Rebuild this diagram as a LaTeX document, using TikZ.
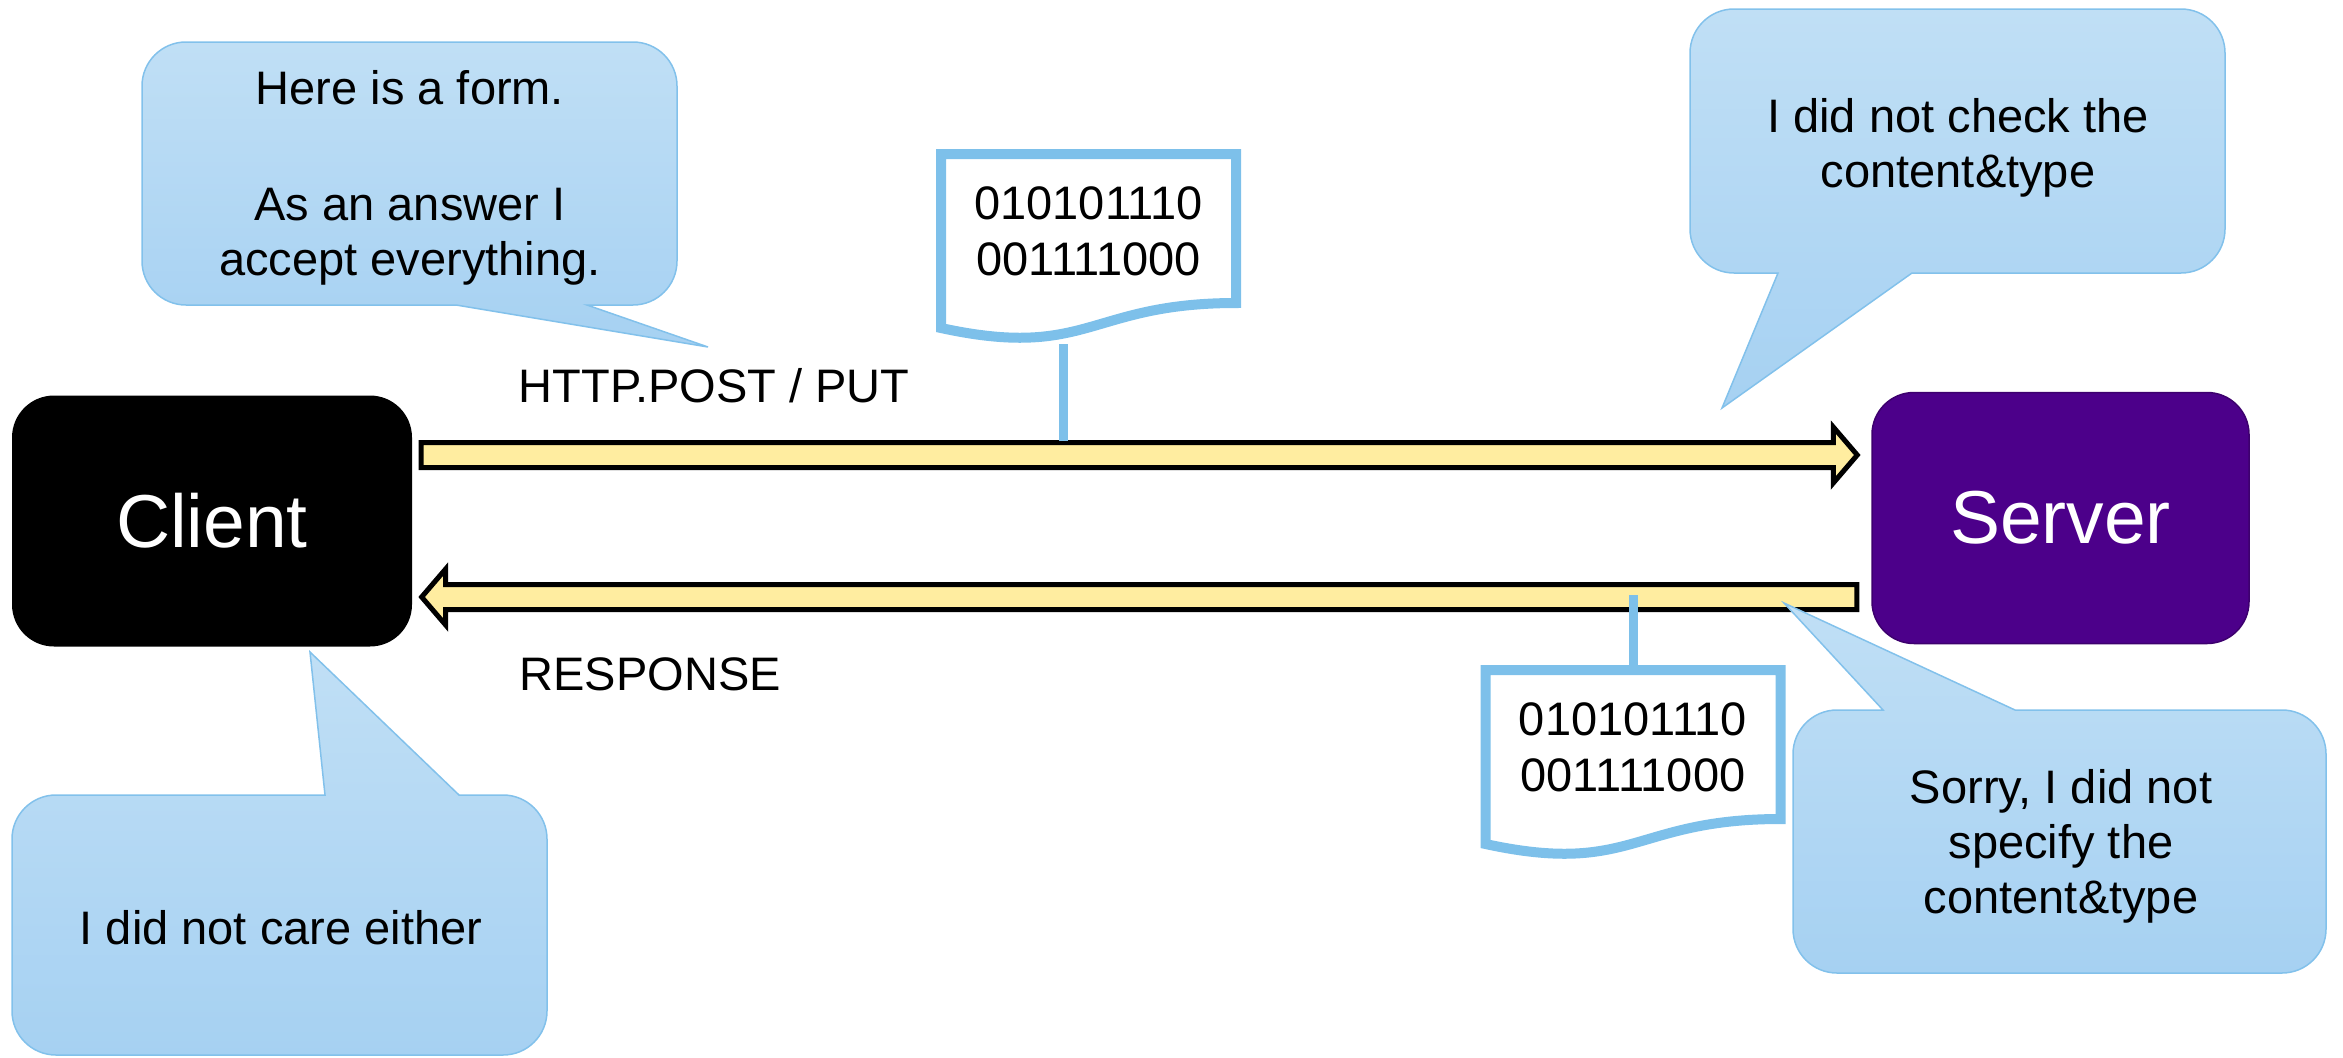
\documentclass[tikz,border=0pt]{standalone}
\usepackage{fontspec}
\setmainfont{Liberation Sans}
\usetikzlibrary{calc}
\definecolor{argyellow}{RGB}{255,237,160}
\definecolor{serverpurple}{RGB}{76,0,138}
\definecolor{docblue}{RGB}{125,192,234}
\definecolor{balloontop}{RGB}{192,223,245}
\definecolor{balloonbottom}{RGB}{166,209,242}
\definecolor{balloonline}{RGB}{130,193,235}
\begin{document}
\begin{tikzpicture}[x=0.3pt, y=-0.3pt,
  host/.style={rounded corners=12.6pt, minimum height=75.3pt, inner sep=0pt, text=white, font=\fontsize{22.5}{27}\selectfont},
  fatarrow/.style={draw=black, line width=1.5pt, fill=argyellow, line join=miter},
  balloon/.style={draw=balloonline, line width=0.45pt, top color=balloontop, bottom color=balloonbottom},
  says/.style={align=center, inner sep=0pt, font=\fontsize{14.1}{16.5}\selectfont},
  bits/.style={align=center, inner sep=0pt, font=\fontsize{14.1}{16.8}\selectfont},
  docline/.style={draw=docblue, line width=3pt, line join=miter},
  stem/.style={draw=docblue, line width=2.7pt},
  msg/.style={anchor=base west, inner sep=0pt, font=\fontsize{14.1}{16.5}\selectfont}]
\useasboundingbox (0,0) rectangle (2343,1057);

\node[host, fill=black, minimum width=120pt] (client) at (212,521) {Client};
\node[host, fill=serverpurple, draw=serverpurple!80!black, line width=0.45pt, minimum width=113.1pt] (server) at (2060.5,518) {Server};

% request and response
\coordinate (postA) at ($(client.east)+(8.5,-66)$);
\coordinate (postB) at ($(server.west)+(-14,-63)$);
\coordinate (respA) at ($(server.west)+(-14.5,79)$);
\coordinate (respB) at ($(client.east)+(9,76)$);
\draw[fatarrow] ($(postA)+(0,-12.5)$) -- ($(postB)+(-24,-12.5)$) -- ($(postB)+(-24,-28)$) -- (postB) -- ($(postB)+(-24,28)$) -- ($(postB)+(-24,12.5)$) -- ($(postA)+(0,12.5)$) -- cycle;
\draw[fatarrow] ($(respA)+(0,-12.5)$) -- ($(respB)+(24,-12.5)$) -- ($(respB)+(24,-28)$) -- (respB) -- ($(respB)+(24,28)$) -- ($(respB)+(24,12.5)$) -- ($(respA)+(0,12.5)$) -- cycle;
\node[msg] (postlabel) at (518,402) {HTTP.POST / PUT};
\node[msg] (resplabel) at (519,690) {RESPONSE};

% payloads
\node[bits] (docPost) at (1088.5,231) {010101110\\001111000};
\node[bits] (docResp) at (1633,747) {010101110\\001111000};
\draw[docline] ($(docPost)+(-147.5,-77)$) -- ++(295,0) -- ++(0,149) .. controls +(-147.5,0) and +(147.5,32) .. ++(-295,25) -- cycle;
\draw[docline] ($(docResp)+(-147.5,-77)$) -- ++(295,0) -- ++(0,149) .. controls +(-147.5,0) and +(147.5,32) .. ++(-295,25) -- cycle;
\draw[stem] ($(docPost)+(-25,113)$) -- ++(0,97);
\draw[stem] ($(docResp)+(0,-80)$) -- ++(0,-72);

% speech balloons
\draw[balloon] (186,42) -- (633,42) arc[start angle=-90, end angle=0, radius=44] -- (677,261) arc[start angle=0, end angle=90, radius=44] -- (587,305) -- (708,347) -- (456,305) -- (186,305) arc[start angle=90, end angle=180, radius=44] -- (142,86) arc[start angle=180, end angle=270, radius=44] -- cycle;
\draw[balloon] (1734,9) -- (2181,9) arc[start angle=-90, end angle=0, radius=44] -- (2225,229) arc[start angle=0, end angle=90, radius=44] -- (1912,273) -- (1722,408) -- (1778,273) -- (1734,273) arc[start angle=90, end angle=180, radius=44] -- (1690,53) arc[start angle=180, end angle=270, radius=44] -- cycle;
\draw[balloon] (56,795) -- (325,795) -- (310,652) -- (459,795) -- (503,795) arc[start angle=-90, end angle=0, radius=44] -- (547,1011) arc[start angle=0, end angle=90, radius=44] -- (56,1055) arc[start angle=90, end angle=180, radius=44] -- (12,839) arc[start angle=180, end angle=270, radius=44] -- cycle;
\draw[balloon] (1837,710) -- (1883,710) -- (1784,603) -- (2015,710) -- (2282,710) arc[start angle=-90, end angle=0, radius=44] -- (2326,929) arc[start angle=0, end angle=90, radius=44] -- (1837,973) arc[start angle=90, end angle=180, radius=44] -- (1793,754) arc[start angle=180, end angle=270, radius=44] -- cycle;

\node[says] (formtalk) at (410,178) {Here is a form.\\[18.3pt]As an answer I\\accept everything.};
\node[says] (checktalk) at (1958,147.5) {I did not check the\\content\&type};
\node[says] (caretalk) at (281,928) {I did not care either};
\node[says] (sorrytalk) at (2061,846) {Sorry, I did not\\specify the\\content\&type};

\end{tikzpicture}
\end{document}
